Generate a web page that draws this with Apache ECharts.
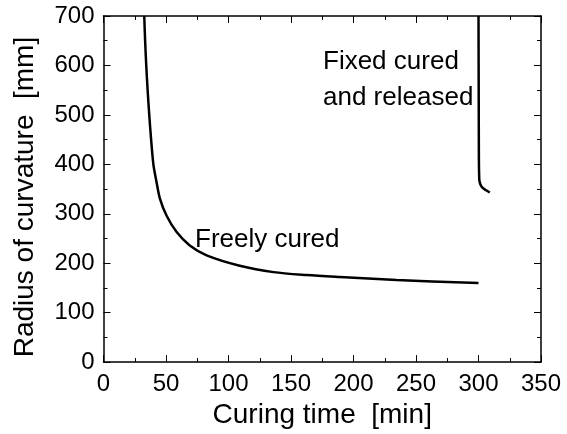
<!DOCTYPE html>
<html>
<head>
    <meta charset="utf-8">
    <title>Radius of curvature</title>
    <script src="https://cdn.jsdelivr.net/npm/echarts@6/dist/echarts.min.js"></script>
</head>
<body style="margin:0">
<div id="chart" style="width:567px;height:434px;"></div>
<script type="text/javascript">
// freely cured curve [time, radius]
var freeTime   = [32.6, 33.3, 34.2, 35.3, 36.6, 38.1, 39.9, 42, 45.2, 50.5, 58.5, 69, 82.5, 109, 136, 162.5, 189, 234.5, 300];
var freeRadius = [700, 650, 600, 550, 500, 450, 400, 370, 330, 296, 263, 236, 216, 195, 182, 176, 172, 166, 160];
// fixed cured, then released
var fixedTime   = [300, 300.3, 300.6, 301.2, 302.2, 304, 306.5, 309];
var fixedRadius = [700, 420, 370, 362, 356, 351, 347, 343];

var xTicks = [0, 50, 100, 150, 200, 250, 300, 350];
var yTicks = [0, 100, 200, 300, 400, 500, 600, 700];

function pairs(xs, ys) {
    var out = [];
    for (var i = 0; i < xs.length; i++) out.push([xs[i], ys[i]]);
    return out;
}

var font = 'Liberation Sans, Arial, sans-serif';
var black = '#000';

// one axis, ticks pointing into the plot; used for all four sides
function axisBase(showLabels, interval, max) {
    return {
        type: 'value',
        min: 0,
        max: max,
        interval: interval,
        splitLine: { show: false },
        axisLine: { show: true, onZero: false, lineStyle: { color: black, width: 1.5 } },
        axisTick: { show: true, inside: true, length: 7, lineStyle: { color: black, width: 1 } },
        minorTick: { show: true, splitNumber: 2, length: 4, lineStyle: { color: black, width: 1 } },
        axisLabel: { show: showLabels, color: black, fontFamily: font, fontSize: 24 }
    };
}

var xBottom = axisBase(true, xTicks[1] - xTicks[0], xTicks[xTicks.length - 1]);
xBottom.position = 'bottom';
xBottom.axisLabel.margin = 10;
xBottom.name = 'Curing time  [min]';
xBottom.nameLocation = 'middle';
xBottom.nameGap = 34;
xBottom.nameTextStyle = { color: black, fontFamily: font, fontSize: 28 };

var xTop = axisBase(false, xTicks[1] - xTicks[0], xTicks[xTicks.length - 1]);
xTop.position = 'top';

var yLeft = axisBase(true, yTicks[1] - yTicks[0], yTicks[yTicks.length - 1]);
yLeft.position = 'left';
yLeft.axisLabel.margin = 9;
yLeft.name = 'Radius of curvature  [mm]';
yLeft.nameLocation = 'middle';
yLeft.nameGap = 64;
yLeft.nameTextStyle = { color: black, fontFamily: font, fontSize: 28, padding: [0, 16, 0, 0] };

var yRight = axisBase(false, yTicks[1] - yTicks[0], yTicks[yTicks.length - 1]);
yRight.position = 'right';

var chart = echarts.init(document.getElementById('chart'));
chart.setOption({
    animation: false,
    backgroundColor: '#fff',
    grid: { left: 103.5, right: 26, top: 16, bottom: 70 },
    xAxis: [xBottom, xTop],
    yAxis: [yLeft, yRight],
    series: [
        {
            name: 'Freely cured',
            type: 'line',
            data: pairs(freeTime, freeRadius),
            smooth: 0.3,
            showSymbol: false,
            lineStyle: { color: black, width: 2.5 }
        },
        {
            name: 'Fixed cured and released',
            type: 'line',
            data: pairs(fixedTime, fixedRadius),
            smooth: true,
            showSymbol: false,
            lineStyle: { color: black, width: 2.5 }
        }
    ],
    graphic: [
        { type: 'text', left: 195, top: 227, style: { text: 'Freely cured', fill: black, font: '26px ' + font } },
        { type: 'text', left: 323, top: 49, style: { text: 'Fixed cured', fill: black, font: '26px ' + font } },
        { type: 'text', left: 323, top: 85, style: { text: 'and released', fill: black, font: '26px ' + font } }
    ]
});
</script>
</body>
</html>
